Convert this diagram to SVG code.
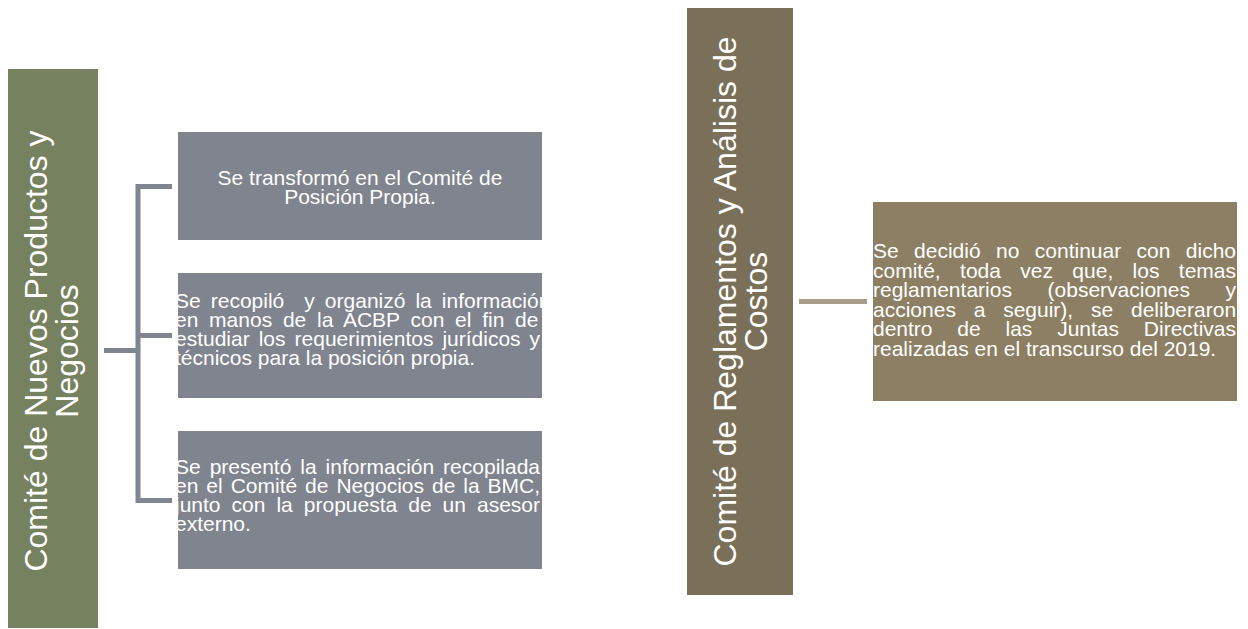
<svg xmlns="http://www.w3.org/2000/svg" width="1248" height="629" viewBox="0 0 1248 629">
<style>
.t{font-family:"Liberation Sans",Arial,sans-serif;fill:#ffffff}
.big{font-size:32px}
.sm{font-size:21px}
.gray{fill:#7f848e}
.conn{fill:none;stroke-width:5;stroke-linecap:butt;stroke-linejoin:miter}
</style>
<rect width="1248" height="629" fill="#ffffff"/>
<g id="connectors">
  <path class="conn" stroke="#80868f" d="M172 186.5 H138 V500.5 H172 M138 335.5 H172 M104 350.5 H138"/>
  <path class="conn" stroke="#a89d86" d="M799 301.5 H867"/>
</g>
<g id="node-nuevos">
  <rect x="8" y="69" width="90" height="559" fill="#76815f"/>
  <text class="t big" text-anchor="middle" transform="translate(47,351) rotate(-90)">Comité de Nuevos Productos y</text>
  <text class="t big" text-anchor="middle" transform="translate(78,351) rotate(-90)">Negocios</text>
</g>
<g id="node-box1">
  <rect class="gray" x="178" y="132" width="364" height="108"/>
  <text class="t sm" text-anchor="middle" x="360" y="185">Se transformó en el Comité de</text>
  <text class="t sm" text-anchor="middle" x="360" y="204">Posición Propia.</text>
</g>
<g id="node-box2">
  <rect class="gray" x="178" y="273" width="364" height="125"/>
  <text class="t sm" xml:space="preserve" x="175" y="307.5" word-spacing="4.2">Se recopiló  y organizó la información</text>
  <text class="t sm" x="175" y="326.5" word-spacing="4.91">en manos de la ACBP con el fin de</text>
  <text class="t sm" x="175" y="345.5" word-spacing="3.15">estudiar los requerimientos jurídicos y</text>
  <text class="t sm" x="175" y="364.5">técnicos para la posición propia.</text>
</g>
<g id="node-box3">
  <rect class="gray" x="178" y="431" width="364" height="138"/>
  <text class="t sm" x="175" y="474" word-spacing="3.12">Se presentó la información recopilada</text>
  <text class="t sm" x="175" y="493" word-spacing="2.13">en el Comité de Negocios de la BMC,</text>
  <text class="t sm" x="175" y="512" word-spacing="5.19">junto con la propuesta de un asesor</text>
  <text class="t sm" x="175" y="531">externo.</text>
</g>
<g id="node-reglamentos">
  <rect x="687" y="8" width="106" height="587" fill="#7a6f58"/>
  <text class="t big" text-anchor="middle" transform="translate(736,301.5) rotate(-90)">Comité de Reglamentos y Análisis de</text>
  <text class="t big" text-anchor="middle" transform="translate(767,301.5) rotate(-90)">Costos</text>
</g>
<g id="node-box4">
  <rect x="873" y="202" width="364" height="199" fill="#8c7f63"/>
  <text class="t sm" x="873" y="258" word-spacing="9.56">Se decidió no continuar con dicho</text>
  <text class="t sm" x="873" y="277.5" word-spacing="13.54">comité, toda vez que, los temas</text>
  <text class="t sm" x="873" y="297" word-spacing="29.8">reglamentarios (observaciones y</text>
  <text class="t sm" x="873" y="316.5" word-spacing="11.97">acciones a seguir), se deliberaron</text>
  <text class="t sm" x="873" y="336" word-spacing="18.97">dentro de las Juntas Directivas</text>
  <text class="t sm" x="873" y="355.5">realizadas en el transcurso del 2019.</text>
</g>
</svg>
